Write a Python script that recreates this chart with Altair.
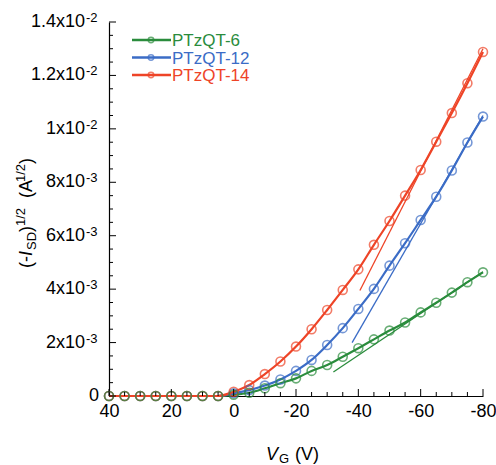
import altair as alt
import pandas as pd

# Gate voltage sweep (V)
vg = [40, 35, 30, 25, 20, 15, 10, 5, 0, -5, -10, -15, -20, -25, -30,
      -35, -40, -45, -50, -55, -60, -65, -70, -75, -80]

# sqrt(-I_SD) in units of 1e-3 A^1/2
ptzqt6 = [0, 0, 0, 0, 0, 0, 0, 0, 0.05, 0.12, 0.29, 0.48, 0.66, 0.94, 1.16,
          1.47, 1.79, 2.12, 2.45, 2.75, 3.13, 3.49, 3.87, 4.26, 4.63]
ptzqt12 = [0, 0, 0, 0, 0, 0, 0, 0, 0.10, 0.22, 0.39, 0.62, 0.94, 1.35, 1.91,
           2.54, 3.26, 4.01, 4.88, 5.72, 6.59, 7.46, 8.44, 9.49, 10.46]
ptzqt14 = [0, 0, 0, 0, 0, 0, 0, 0, 0.16, 0.41, 0.82, 1.29, 1.85, 2.50, 3.22,
           3.97, 4.74, 5.66, 6.55, 7.50, 8.46, 9.52, 10.59, 11.71, 12.88]

series_names = ["PTzQT-6", "PTzQT-12", "PTzQT-14"]
series_colors = ["#2a8c3c", "#3b6cc6", "#ee4427"]

# Linear fits in the saturation regime (start/end points, 1e-3 A^1/2)
fit_v_start = [-32, -38, -40.5]
fit_i_start = [0.90, 2.00, 3.95]
fit_v_end = [-80, -80, -80]
fit_i_end = [4.65, 10.50, 13.00]

# Axis ticks and labels
x_major = [40, 20, 0, -20, -40, -60, -80]
x_minor = [v for v in range(40, -81, -5) if v not in x_major]
y_major = [0, 2, 4, 6, 8, 10, 12, 14]
y_minor = [v / 2 for v in range(0, 29) if v % 4 != 0]
y_label_main = ["0", "2x10", "4x10", "6x10", "8x10", "1x10", "1.2x10", "1.4x10"]
y_label_sup = ["", "-3", "-3", "-3", "-3", "-2", "-2", "-2"]

FONT = "Liberation Sans"

rows = []
for name, vals in zip(series_names, [ptzqt6, ptzqt12, ptzqt14]):
    for v, i in zip(vg, vals):
        rows.append({"series": name, "vg": v, "isd": i * 1e-3})
curves = pd.DataFrame(rows)

fit_rows = []
for name, v0, i0, v1, i1 in zip(series_names, fit_v_start, fit_i_start, fit_v_end, fit_i_end):
    fit_rows.append({"series": name, "vg": v0, "isd": i0 * 1e-3})
    fit_rows.append({"series": name, "vg": v1, "isd": i1 * 1e-3})
fits = pd.DataFrame(fit_rows)

color = alt.Color("series:N", scale=alt.Scale(domain=series_names, range=series_colors), legend=None)

x_enc = alt.X("vg:Q",
              scale=alt.Scale(domain=[-80, 40], reverse=True, nice=False, zero=False),
              axis=alt.Axis(values=x_major, ticks=False, grid=False, title=None,
                            labelExpr="'' + datum.value", labelFontSize=18, labelFont=FONT,
                            labelColor="black", labelPadding=6, labelAngle=0,
                            domainColor="black", domainWidth=1.2, labelFlush=False))
y_enc = alt.Y("isd:Q",
              scale=alt.Scale(domain=[0, 0.014], nice=False),
              axis=alt.Axis(labels=False, ticks=False, grid=False, title=None,
                            domainColor="black", domainWidth=1.2))

lines = alt.Chart(curves).mark_line(strokeWidth=2.2, interpolate="monotone").encode(
    x=x_enc, y=y_enc, color=color, detail="series:N")
points = alt.Chart(curves).mark_point(shape="circle", filled=False, size=80, strokeWidth=1.6).encode(
    x=x_enc, y=y_enc, color=color, order=alt.Order("series:N"))
fit_lines = alt.Chart(fits).mark_line(strokeWidth=1.3).encode(
    x=x_enc, y=y_enc, color=color, detail="series:N")

# Inward-pointing axis ticks
xt_major = alt.Chart(pd.DataFrame({"vg": x_major})).mark_rule(color="black", strokeWidth=1).encode(
    x=x_enc, y=alt.value(374), y2=alt.value(367))
xt_minor = alt.Chart(pd.DataFrame({"vg": x_minor})).mark_rule(color="black", strokeWidth=1).encode(
    x=x_enc, y=alt.value(374), y2=alt.value(370))
yt_major = alt.Chart(pd.DataFrame({"isd": [v * 1e-3 for v in y_major]})).mark_rule(color="black", strokeWidth=1).encode(
    y=y_enc, x=alt.value(0), x2=alt.value(7))
yt_minor = alt.Chart(pd.DataFrame({"isd": [v * 1e-3 for v in y_minor]})).mark_rule(color="black", strokeWidth=1).encode(
    y=y_enc, x=alt.value(0), x2=alt.value(4))

# Y tick labels with superscript exponents
ylab = pd.DataFrame({"isd": [v * 1e-3 for v in y_major], "main": y_label_main, "sup": y_label_sup})
ylab_main = alt.Chart(ylab).transform_filter("datum.sup != ''").mark_text(
    align="right", baseline="middle", fontSize=18, font=FONT, color="black").encode(
    y=y_enc, x=alt.value(-24), text="main:N")
ylab_zero = alt.Chart(ylab).transform_filter("datum.sup == ''").mark_text(
    align="right", baseline="middle", fontSize=18, font=FONT, color="black").encode(
    y=y_enc, x=alt.value(-10), text="main:N")
ylab_sup = alt.Chart(ylab).transform_filter("datum.sup != ''").mark_text(
    align="left", baseline="middle", fontSize=13, font=FONT, color="black", dy=-4).encode(
    y=y_enc, x=alt.value(-23), text="sup:N")

# Axis titles built from styled pieces
def piece(txt, x, y, size=18, style="normal", angle=0):
    return alt.Chart(pd.DataFrame({"t": [txt]})).mark_text(
        align="left", baseline="alphabetic", fontSize=size, font=FONT,
        fontStyle=style, color="black", angle=angle).encode(
        x=alt.value(x), y=alt.value(y), text="t:N")

x_title = [
    piece("V", 157, 438, style="italic"),
    piece("G", 170, 441, size=13),
    piece("(V)", 186, 438),
]
y_title = [
    piece("(-", -77, 246, angle=270),
    piece("I", -77, 234, style="italic", angle=270),
    piece("SD", -73, 228, size=13, angle=270),
    piece(")", -77, 210, angle=270),
    piece("1/2", -84, 204, size=13, angle=270),
    piece("(A", -77, 176, angle=270),
    piece("1/2", -84, 160, size=13, angle=270),
    piece(")", -77, 142, angle=270),
]

# Legend
legend_layers = []
for k, (name, col) in enumerate(zip(series_names, series_colors)):
    yy = 18 + 17.5 * k
    legend_layers.append(alt.Chart(pd.DataFrame({"s": [name]})).mark_rule(color=col, strokeWidth=2.5).encode(
        x=alt.value(23), x2=alt.value(62), y=alt.value(yy)))
    legend_layers.append(alt.Chart(pd.DataFrame({"s": [name]})).mark_point(
        shape="circle", filled=False, size=30, strokeWidth=1.5, color=col).encode(
        x=alt.value(42), y=alt.value(yy)))
    legend_layers.append(alt.Chart(pd.DataFrame({"s": [name]})).mark_text(
        align="left", baseline="middle", fontSize=17, font=FONT, color=col).encode(
        x=alt.value(63), y=alt.value(yy + 1), text="s:N"))

chart = alt.layer(
    lines, fit_lines, points,
    xt_major, xt_minor, yt_major, yt_minor,
    ylab_main, ylab_zero, ylab_sup,
    *x_title, *y_title, *legend_layers,
).properties(
    width=374, height=374,
    padding={"left": 109, "top": 22, "right": 13, "bottom": 69},
    autosize=alt.AutoSizeParams(type="none"),
    background="white",
).configure_view(stroke=None)

chart.save("out.html", embed_options={"renderer": "svg", "actions": False})
